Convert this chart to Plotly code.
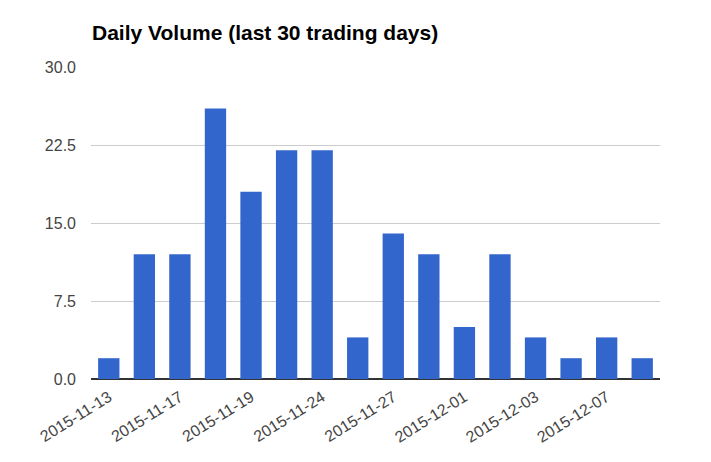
import plotly.graph_objects as go

# trading days and volumes
days = [
    "2015-11-13", "2015-11-16", "2015-11-17", "2015-11-18",
    "2015-11-19", "2015-11-23", "2015-11-24", "2015-11-25",
    "2015-11-27", "2015-11-30", "2015-12-01", "2015-12-02",
    "2015-12-03", "2015-12-04", "2015-12-07", "2015-12-08",
]
volume = [2, 12, 12, 26, 18, 22, 22, 4, 14, 12, 5, 12, 4, 2, 4, 2]
shown_days = days[::2]
y_ticks = [0, 7.5, 15, 22.5, 30]

# page body has an 8px margin, so the figure is a bit smaller than the window
W, H = 703, 454

fig = go.Figure(
    go.Bar(x=days, y=volume, marker_color="#3366CC", marker_line_width=0)
)
fig.update_layout(
    width=W,
    height=H,
    margin=dict(l=83, r=51, t=59, b=83),
    paper_bgcolor="white",
    plot_bgcolor="white",
    bargap=0.4,
    showlegend=False,
    font=dict(family="Liberation Sans, Arial, sans-serif", color="#444444", size=16),
    title=dict(
        text="<b>Daily Volume (last 30 trading days)</b>",
        x=84 / W, xanchor="left", y=1 - 25 / H, yanchor="middle",
        font=dict(size=21, color="#000000"),
    ),
)
fig.update_xaxes(
    type="category",
    tickmode="array",
    tickvals=shown_days,
    ticktext=shown_days,
    tickangle=-32,
    showgrid=False,
    ticks="",
    showline=False,
    ticklabelstandoff=5,
)
fig.update_yaxes(
    range=[0, 30],
    tickvals=y_ticks,
    ticktext=[f"{v:.1f}" for v in y_ticks],
    gridcolor="#CCCCCC",
    zeroline=True,
    zerolinecolor="#333333",
    zerolinewidth=2,
    ticks="",
    ticklabelstandoff=14,
)

fig.write_html("out.html")
